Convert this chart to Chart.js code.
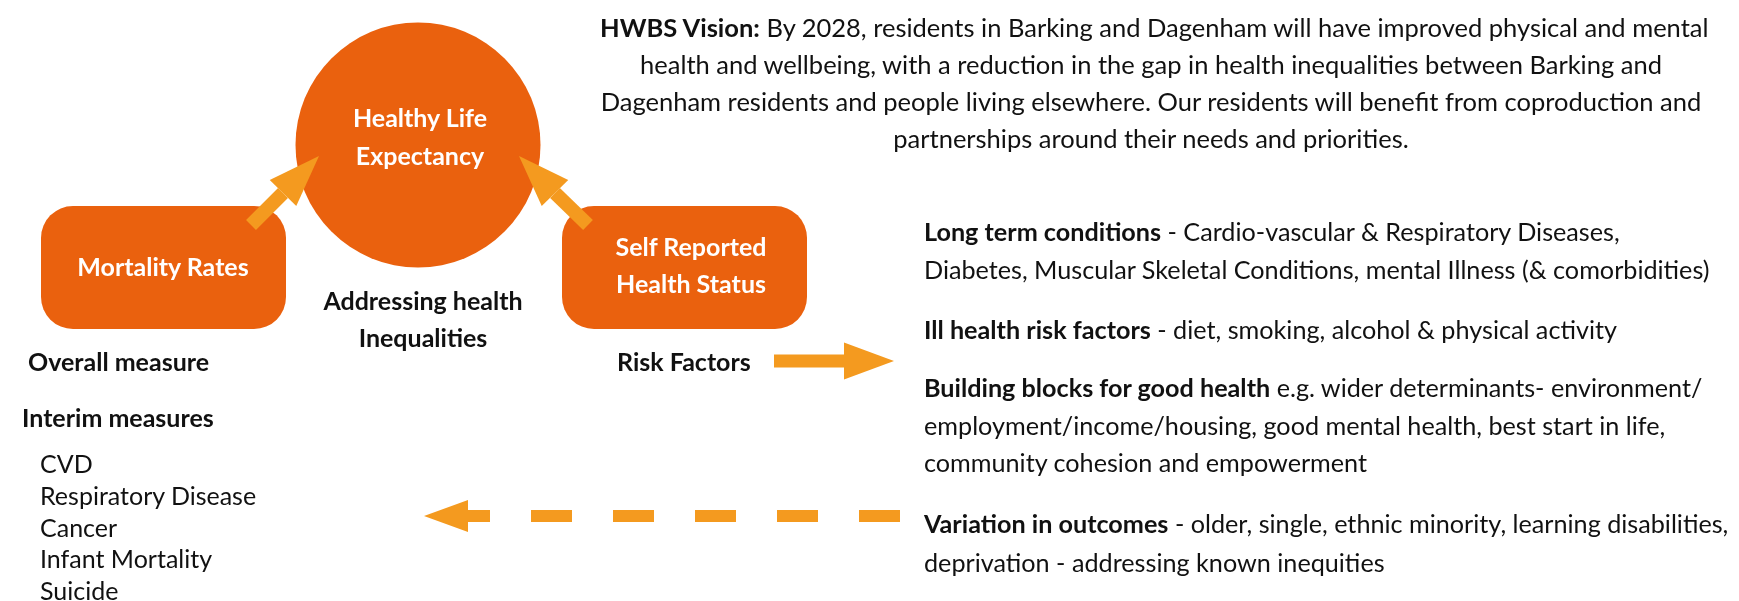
<!DOCTYPE html>
<html>
<head>
<meta charset="utf-8">
<script src="https://cdn.jsdelivr.net/npm/chart.js@4.4.0/dist/chart.umd.min.js"></script>
<style>
  body { margin: 0; background: #ffffff; }
  #wrap { position: relative; width: 1739px; height: 601px; overflow: hidden; }
  #diagram { position: absolute; left: 0; top: 0; }
  .t { position: absolute; white-space: nowrap; color: #111; font-family: Lato, sans-serif; font-size: 25px; }
  .c { text-align: center; }
  .w { color: #fff; font-weight: bold; }
  #vision { left: 600px; width: 1102px; top: 9px; font-size: 25.5px; line-height: 37px; }
  .right { left: 924px; line-height: 37.5px; font-size: 25.2px; }
  .lbl { font-weight: bold; line-height: 32px; }
  #list { left: 40px; top: 448px; line-height: 31.75px; }
</style>
</head>
<body>
<div id="wrap">
  <canvas id="diagram" width="1739" height="601"></canvas>

  <div class="t w c" style="left:270px;width:300px;top:99px;line-height:37.5px;">Healthy Life<br>Expectancy</div>
  <div class="t w c" style="left:13px;width:300px;top:248px;line-height:36px;">Mortality Rates</div>
  <div class="t w c" style="left:541px;width:300px;top:228px;line-height:37px;">Self Reported<br>Health Status</div>
  <div class="t c lbl" style="left:223px;width:400px;top:282px;line-height:37px;">Addressing health<br>Inequalities</div>

  <div id="vision" class="t c"></div>

  <div class="t lbl" style="left:28px;top:345px;">Overall measure</div>
  <div class="t lbl" style="left:22px;top:401px;">Interim measures</div>
  <div id="list" class="t"></div>
  <div class="t lbl" style="left:617px;top:345px;">Risk Factors</div>

  <div class="t right" style="top:213px;" id="r0"></div>
  <div class="t right" style="top:311px;" id="r1"></div>
  <div class="t right" style="top:369px;" id="r2"></div>
  <div class="t right" style="top:504px;line-height:38.5px;" id="r3"></div>
</div>

<script>
// diagram coordinates are in chart units (x 0-1739, y 0-601 top-down)
const circleCenter = [{ x: 418, y: 145 }];

const boxNames = ['Mortality Rates', 'Self Reported Health Status'];
const boxLeft = [41, 562];
const boxRight = [286, 807];
const boxTop = [206, 206];
const boxBottom = [329, 329];

// each arrow: tail -> base of head -> tip
const arrowNames = ['mortality', 'selfReported', 'riskFactors', 'outcomes'];
const arrowTail = [{ x: 251, y: 225 }, { x: 588, y: 225 }, { x: 774, y: 361 }, { x: 900, y: 516 }];
const arrowBase = [{ x: 283, y: 193 }, { x: 555, y: 193 }, { x: 844, y: 361 }, { x: 468, y: 516 }];
const arrowTip = [{ x: 319, y: 156 }, { x: 519, y: 156 }, { x: 894, y: 361 }, { x: 424, y: 516 }];

const visionLines = [
    '<b>HWBS Vision:</b> By 2028, residents in Barking and Dagenham will have improved physical and mental',
    'health and wellbeing, with a reduction in the gap in health inequalities between Barking and',
    'Dagenham residents and people living elsewhere. Our residents will benefit from coproduction and',
    'partnerships around their needs and priorities.'
];

const interimMeasures = ['CVD', 'Respiratory Disease', 'Cancer', 'Infant Mortality', 'Suicide'];

const rightItems = [
    ['<b>Long term conditions</b> - Cardio-vascular &amp; Respiratory Diseases,',
     'Diabetes, Muscular Skeletal Conditions, mental Illness (&amp; comorbidities)'],
    ['<b>Ill health risk factors</b> - diet, smoking, alcohol &amp; physical activity'],
    ['<b>Building blocks for good health</b> e.g. wider determinants- environment/',
     'employment/income/housing, good mental health, best start in life,',
     'community cohesion and empowerment'],
    ['<b>Variation in outcomes</b> - older, single, ethnic minority, learning disabilities,',
     'deprivation - addressing known inequities']
];

const ORANGE = '#ea610e';
const ARROW = '#f49a1f';

document.getElementById('vision').innerHTML = visionLines.join('<br>');
document.getElementById('list').innerHTML = interimMeasures.join('<br>');
rightItems.forEach((lines, i) => {
    document.getElementById('r' + i).innerHTML = lines.join('<br>');
});

// rounded boxes behind everything
const boxPlugin = {
    id: 'boxes',
    beforeDatasetsDraw(chart) {
        const { ctx, scales: { x, y } } = chart;
        ctx.save();
        ctx.fillStyle = ORANGE;
        boxNames.forEach((name, i) => {
            const x0 = x.getPixelForValue(boxLeft[i]);
            const x1 = x.getPixelForValue(boxRight[i]);
            const y0 = y.getPixelForValue(boxTop[i]);
            const y1 = y.getPixelForValue(boxBottom[i]);
            ctx.beginPath();
            ctx.roundRect(x0, y0, x1 - x0, y1 - y0, 32);
            ctx.fill();
        });
        ctx.restore();
    }
};

// arrow heads at the end of each arrow line
const headPlugin = {
    id: 'heads',
    afterDatasetsDraw(chart) {
        const { ctx, scales: { x, y } } = chart;
        ctx.save();
        chart.data.datasets.forEach((ds, i) => {
            if (ds.arrow === undefined) return;
            const pts = chart.getDatasetMeta(i).data;
            const b = pts[pts.length - 1];
            const tip = arrowTip[ds.arrow];
            const tx = x.getPixelForValue(tip.x), ty = y.getPixelForValue(tip.y);
            const dx = tx - b.x, dy = ty - b.y;
            const len = Math.hypot(dx, dy);
            const nx = -dy / len * ds.headWidth / 2, ny = dx / len * ds.headWidth / 2;
            ctx.fillStyle = ds.borderColor;
            ctx.beginPath();
            ctx.moveTo(tx, ty);
            ctx.lineTo(b.x + nx, b.y + ny);
            ctx.lineTo(b.x - nx, b.y - ny);
            ctx.closePath();
            ctx.fill();
        });
        ctx.restore();
    }
};

const headWidths = [37, 37, 37, 32];
const shaftWidths = [14, 14, 13, 12];

const arrowSets = arrowNames.map((name, i) => ({
    type: 'line',
    label: name,
    arrow: i,
    data: [arrowTail[i], arrowBase[i]],
    borderColor: ARROW,
    borderWidth: shaftWidths[i],
    borderCapStyle: 'butt',
    borderDash: name === 'outcomes' ? [41, 41] : [],
    headWidth: headWidths[i],
    pointRadius: 0,
    fill: false,
    clip: false,
    order: 0
}));

new Chart(document.getElementById('diagram'), {
    type: 'scatter',
    data: {
        datasets: [
            ...arrowSets,
            {
                label: 'Healthy Life Expectancy',
                data: circleCenter,
                pointRadius: 122.5,
                pointBackgroundColor: ORANGE,
                pointBorderWidth: 0,
                clip: false,
                order: 10
            }
        ]
    },
    options: {
        responsive: false,
        animation: false,
        events: [],
        layout: { padding: 0, autoPadding: false },
        plugins: { legend: { display: false }, tooltip: { enabled: false } },
        scales: {
            x: { type: 'linear', min: 0, max: 1739, display: false },
            y: { type: 'linear', min: 0, max: 601, reverse: true, display: false }
        }
    },
    plugins: [boxPlugin, headPlugin]
});
</script>
</body>
</html>
